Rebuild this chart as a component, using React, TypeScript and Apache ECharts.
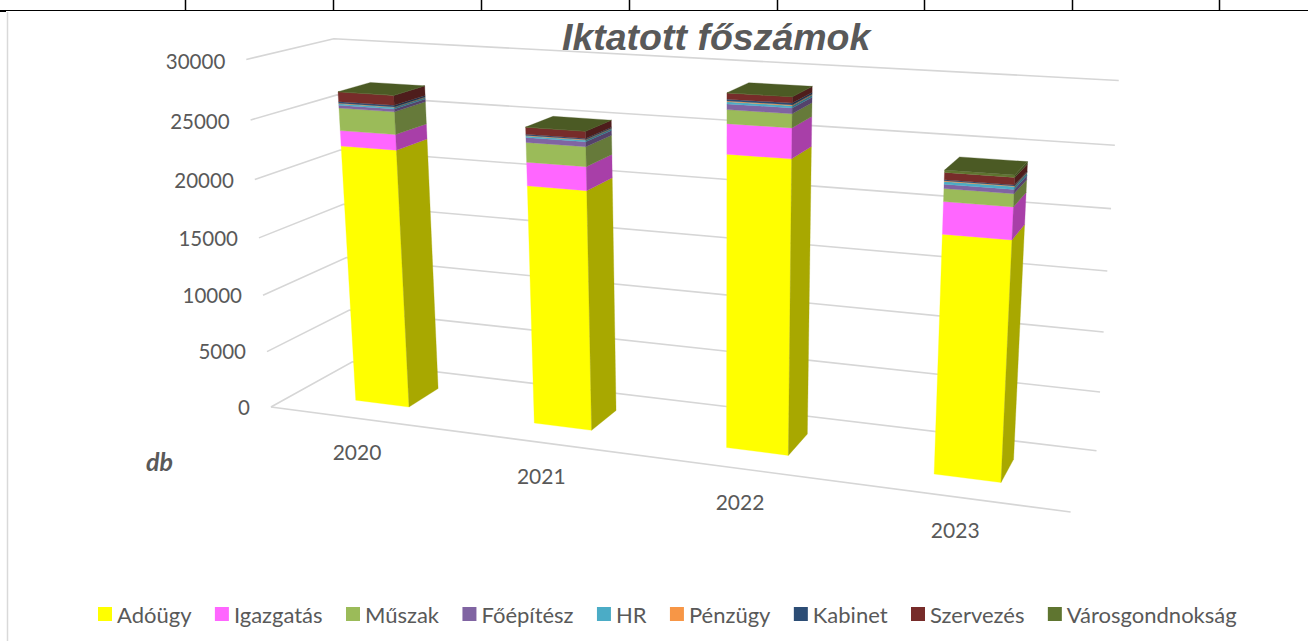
import React, { useEffect, useRef } from "react";
import * as echarts from "echarts";

const categories = ["2020", "2021", "2022", "2023"];
const yTicks = [0, 5000, 10000, 15000, 20000, 25000, 30000];

const adougy = [22480, 20350, 24120, 19200];
const igazgatas = [1310, 1950, 2390, 2500];
const muszak = [1900, 1620, 1095, 1000];
const foepitesz = [240, 400, 440, 320];
const hr = [130, 130, 170, 215];
const penzugy = [40, 40, 60, 50];
const kabinet = [130, 90, 140, 70];
const szervezes = [820, 580, 480, 565];
const varosgondnoksag = [10, 10, 10, 180];

const seriesNames = ["Adóügy", "Igazgatás", "Műszak", "Főépítész", "HR", "Pénzügy", "Kabinet", "Szervezés", "Városgondnokság"];
const seriesValues = [adougy, igazgatas, muszak, foepitesz, hr, penzugy, kabinet, szervezes, varosgondnoksag];
const frontColors = ["#FFFF00", "#FF66FF", "#9BBB59", "#8064A2", "#4BACC6", "#F79646", "#2C4D75", "#772C2A", "#5F7530"];
const sideColors = ["#A8A800", "#A83FA8", "#667A3A", "#54426B", "#317183", "#A3632E", "#1D334D", "#4E1D1C", "#3F4E20"];
const topColor = "#4B5A24";

// Calibration of the 3D box: [u, v, w] -> picture position
const anchors: number[][] = [
  [0, 0, 0, 269.4, 406.7],
  [1, 0, 0, 1071, 511.7],
  [1, 0, 1, 1096, 451],
  [0, 0, 1, 354, 362],
  [0, 1, 0, 247.5, 60],
  [0, 1, 1, 332.5, 38.3],
  [1, 1, 1, 1119, 80.3],
  [0, 5 / 6, 0, 251, 120],
  [0, 4 / 6, 0, 254.6, 179.7],
  [0, 3 / 6, 0, 258.8, 237.7],
  [1, 5 / 6, 1, 1114.6, 145],
  [1, 4 / 6, 1, 1111, 209],
  [1, 3 / 6, 1, 1107.5, 271],
  [1, 2 / 6, 1, 1103.7, 332],
  [1, 1 / 6, 1, 1100, 392],
];

function solveProjection(points: number[][]) {
  const n = 11;
  const A = Array.from({ length: n }, () => new Array(n + 1).fill(0));
  const add = (r: number[], b: number) => {
    for (let i = 0; i < n; i++) {
      for (let j = 0; j < n; j++) A[i][j] += r[i] * r[j];
      A[i][n] += r[i] * b;
    }
  };
  for (const [X, Y, Z, px, py] of points) {
    const x = px / 1000;
    const y = py / 1000;
    add([X, Y, Z, 1, 0, 0, 0, 0, -x * X, -x * Y, -x * Z], x);
    add([0, 0, 0, 0, X, Y, Z, 1, -y * X, -y * Y, -y * Z], y);
  }
  for (let c = 0; c < n; c++) {
    let best = c;
    for (let r = c + 1; r < n; r++) if (Math.abs(A[r][c]) > Math.abs(A[best][c])) best = r;
    [A[c], A[best]] = [A[best], A[c]];
    for (let r = 0; r < n; r++) {
      if (r === c) continue;
      const f = A[r][c] / A[c][c];
      for (let k = c; k <= n; k++) A[r][k] -= f * A[c][k];
    }
  }
  return A.map((row, i) => row[n] / row[i]);
}

const P = solveProjection(anchors);
function project(u: number, v: number, w: number): [number, number] {
  const d = P[8] * u + P[9] * v + P[10] * w + 1;
  return [
    (1000 * (P[0] * u + P[1] * v + P[2] * w + P[3])) / d,
    (1000 * (P[4] * u + P[5] * v + P[6] * w + P[7])) / d,
  ];
}

const BAR_WIDTH_RATIO = 0.306;
const DEPTH_FRONT = 0.3;
const DEPTH_BACK = 0.69;
const GRID_COLOR = "#D6D6D6";
const TEXT_COLOR = "#595959";
const FONT = "Lato";

function toUV(params: any, api: any, cat: number, val: number) {
  const cs = params.coordSys;
  const pt = api.coord([cat, val]);
  return [(pt[0] - cs.x) / cs.width, (cs.y + cs.height - pt[1]) / cs.height];
}

const poly = (points: number[][], fill: string) => ({
  type: "polygon",
  shape: { points },
  style: { fill, stroke: fill, lineWidth: 0.3 },
});

function segmentRenderer(index: number) {
  const last = index === seriesNames.length - 1;
  return (params: any, api: any) => {
    const cat = api.value(0);
    const [uc, v0] = toUV(params, api, cat, api.value(1));
    const [, v1] = toUV(params, api, cat, api.value(2));
    const half = (api.size([1, 0])[0] / params.coordSys.width) * BAR_WIDTH_RATIO * 0.5;
    const ul = uc - half;
    const ur = uc + half;
    const children: any[] = [
      poly([project(ul, v0, DEPTH_FRONT), project(ur, v0, DEPTH_FRONT), project(ur, v1, DEPTH_FRONT), project(ul, v1, DEPTH_FRONT)], frontColors[index]),
      poly([project(ur, v0, DEPTH_FRONT), project(ur, v0, DEPTH_BACK), project(ur, v1, DEPTH_BACK), project(ur, v1, DEPTH_FRONT)], sideColors[index]),
    ];
    if (last) {
      children.push(poly([project(ul, v1, DEPTH_FRONT), project(ur, v1, DEPTH_FRONT), project(ur, v1, DEPTH_BACK), project(ul, v1, DEPTH_BACK)], topColor));
    }
    return { type: "group", children };
  };
}

function wallRenderer(params: any, api: any) {
  const [, v] = toUV(params, api, 0, api.value(1));
  const a = project(0, v, 0);
  const b = project(0, v, 1);
  const c = project(1, v, 1);
  const children: any[] = [
    { type: "polyline", shape: { points: [a, b, c] }, style: { fill: "none", stroke: GRID_COLOR, lineWidth: 1.6 } },
    {
      type: "text",
      style: { text: String(api.value(1)), x: a[0] - 21, y: a[1] + v * 2 - 0.5, fill: TEXT_COLOR, font: `20.5px ${FONT}`, align: "right", verticalAlign: "middle" },
    },
  ];
  if (v === 0) {
    const d = project(1, 0, 0);
    children.push({ type: "line", shape: { x1: a[0], y1: a[1], x2: d[0], y2: d[1] }, style: { stroke: GRID_COLOR, lineWidth: 1.6 } });
  }
  return { type: "group", children };
}

function categoryRenderer(params: any, api: any) {
  const [u] = toUV(params, api, api.value(0), 0);
  const p = project(u, 0, 0);
  return {
    type: "text",
    style: { text: categories[api.value(0)], x: p[0] - 1, y: p[1] + 33, fill: TEXT_COLOR, font: `21px ${FONT}`, align: "center", verticalAlign: "middle" },
  };
}

function stackedData(index: number) {
  return categories.map((_, c) => {
    let base = 0;
    for (let k = 0; k < index; k++) base += seriesValues[k][c];
    return [c, base, base + seriesValues[index][c]];
  });
}

const frameTicks = [185, 333, 481, 629, 777, 924, 1072, 1219];

export default function App() {
  const ref = useRef<HTMLDivElement>(null);
  useEffect(() => {
    document.body.style.margin = "0";
    const chart = echarts.init(ref.current!, undefined, { renderer: "svg" });
    chart.setOption({
      animation: false,
      backgroundColor: "#FFFFFF",
      title: {
        text: "Iktatott főszámok",
        left: 562,
        top: 18,
        padding: 0,
        textStyle: { fontFamily: "Liberation Sans", fontWeight: "bold", fontStyle: "italic", fontSize: 37.5, color: TEXT_COLOR },
      },
      legend: {
        data: seriesNames,
        left: 98,
        top: 603,
        padding: 0,
        itemGap: 23.4,
        itemWidth: 14,
        itemHeight: 14,
        icon: "rect",
        selectedMode: false,
        textStyle: { fontFamily: FONT, fontSize: 22, color: TEXT_COLOR },
      },
      grid: { left: 0, right: 0, top: 0, bottom: 0 },
      xAxis: { type: "category", data: categories, show: false },
      yAxis: { type: "value", min: 0, max: 30000, interval: 5000, show: false },
      graphic: [
        { type: "line", shape: { x1: 0, y1: 10.5, x2: 1308, y2: 10.5 }, style: { stroke: "#000", lineWidth: 1 } },
        { type: "line", shape: { x1: 0, y1: 11.5, x2: 6, y2: 11.5 }, style: { stroke: "#000", lineWidth: 1 } },
        { type: "line", shape: { x1: 7.5, y1: 12, x2: 7.5, y2: 641 }, style: { stroke: "#D9D9D9", lineWidth: 1.5 } },
        ...frameTicks.map((x) => ({ type: "line", shape: { x1: x + 0.5, y1: 0, x2: x + 0.5, y2: 10 }, style: { stroke: "#000", lineWidth: 1.5 } })),
        { type: "text", style: { text: "db", x: 146, y: 461, fill: TEXT_COLOR, font: `italic bold 25px ${FONT}`, verticalAlign: "middle" } },
      ],
      series: [
        { type: "custom", name: "walls", coordinateSystem: "cartesian2d", clip: false, silent: true, data: yTicks.map((t) => [0, t]), renderItem: wallRenderer, z: 1 },
        { type: "custom", name: "labels", coordinateSystem: "cartesian2d", clip: false, silent: true, data: categories.map((_, i) => [i, 0]), renderItem: categoryRenderer, z: 1 },
        ...seriesNames.map((name, i) => ({
          type: "custom",
          name,
          coordinateSystem: "cartesian2d",
          clip: false,
          silent: true,
          itemStyle: { color: frontColors[i] },
          encode: { x: 0, y: 2 },
          data: stackedData(i),
          renderItem: segmentRenderer(i),
          z: 2,
        })),
      ],
    });
    return () => chart.dispose();
  }, []);
  return <div ref={ref} style={{ position: "fixed", left: 0, top: 0, width: 1308, height: 641 }} />;
}
